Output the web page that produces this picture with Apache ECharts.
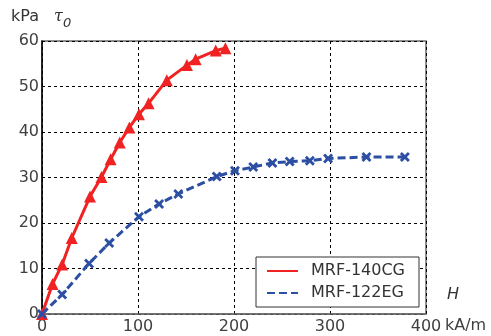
<!DOCTYPE html>
<html><head><meta charset="utf-8">
<script src="https://cdn.jsdelivr.net/npm/echarts@6/dist/echarts.min.js"></script>
<style>html,body{margin:0;padding:0;background:#fff}#c{width:491px;height:336px}</style>
</head><body><div id="c"></div>
<script>
var seriesNames = ['MRF-140CG', 'MRF-122EG'];
var h140 = [0, 11, 21, 31, 50, 62, 71.5, 81, 91, 101, 111, 130, 151, 160, 181, 191];
var tau140 = [0, 6.6, 10.9, 16.7, 25.8, 30.1, 34, 37.7, 41, 43.9, 46.3, 51.4, 54.7, 56, 57.9, 58.4];
var h122 = [0, 21, 49, 70, 101, 122, 142, 182, 201, 220, 240, 258, 279, 298, 338, 378];
var tau122 = [0, 4.3, 11.1, 15.6, 21.4, 24.2, 26.4, 30.2, 31.5, 32.3, 33.2, 33.5, 33.7, 34.2, 34.5, 34.5];
var xTicks = [0, 100, 200, 300, 400];
var yTicks = [0, 10, 20, 30, 40, 50, 60];

function pairs(xs, ys){ return xs.map(function(x,i){return [x, ys[i]];}); }
var font = '"DejaVu Sans", sans-serif';
var chart = echarts.init(document.getElementById('c'));
var xMark = 'path://M0,2 L2,0 L5,3 L8,0 L10,2 L7,5 L10,8 L8,10 L5,7 L2,10 L0,8 L3,5 Z';
chart.setOption({
  animation: false,
  grid: {left: 42, right: 65, top: 41, bottom: 22, show: true, borderColor: '#6a6a6a', borderWidth: 1.5, backgroundColor: '#fff'},
  xAxis: {type: 'value', min: xTicks[0], max: xTicks[xTicks.length-1], interval: 100,
    axisLine: {show: true, lineStyle: {color: '#6a6a6a', width: 1.5}},
    axisTick: {show: false},
    axisLabel: {color: '#404040', fontFamily: font, fontSize: 16, margin: 5},
    splitLine: {show: true, lineStyle: {color: '#000', type: [3, 3], width: 1}}
  },
  yAxis: {type: 'value', min: yTicks[0], max: yTicks[yTicks.length-1], interval: 10,
    axisLine: {show: true, onZero: false, lineStyle: {color: '#000', width: 1.5}},
    axisTick: {show: false},
    axisLabel: {color: '#404040', fontFamily: font, fontSize: 16, margin: 3},
    splitLine: {show: true, lineStyle: {color: '#000', type: [3, 3], width: 1}}
  },
  legend: {
    orient: 'vertical', left: 256, top: 257,
    padding: [5, 14, 5, 10], itemGap: 4, itemWidth: 31, itemHeight: 16,
    borderColor: '#333', borderWidth: 1, backgroundColor: '#fff',
    textStyle: {fontFamily: font, fontSize: 16, lineHeight: 18, color: '#333', padding: [0, 0, 0, 8]},
    itemStyle: {opacity: 0},
    data: seriesNames
  },
  graphic: [
    {type: 'text', left: 11, top: 9, style: {text: 'kPa', font: '16px ' + font, fill: '#333'}},
    {type: 'text', left: 54, top: 9, style: {text: 'τ', font: 'italic 16px "DejaVu Serif", serif', fill: '#333'}},
    {type: 'text', left: 63, top: 17, style: {text: '0', font: 'italic 13px ' + font, fill: '#333'}},
    {type: 'text', left: 447, top: 287, style: {text: 'H', font: 'italic 16px ' + font, fill: '#333'}},
    {type: 'text', left: 445, top: 318, style: {text: 'kA/m', font: '16px ' + font, fill: '#404040'}}
  ],
  series: [
    {name: seriesNames[0], type: 'line', data: pairs(h140, tau140),
     lineStyle: {color: '#f02222', width: 3}, itemStyle: {color: '#f02222'},
     symbol: 'triangle', symbolSize: 12, z: 3},
    {name: seriesNames[1], type: 'line', data: pairs(h122, tau122),
     lineStyle: {color: '#2c4fa3', width: 3, type: [8, 4]}, itemStyle: {color: '#2c4fa3'},
     symbol: xMark, symbolSize: 10, z: 3}
  ]
});
</script></body></html>
